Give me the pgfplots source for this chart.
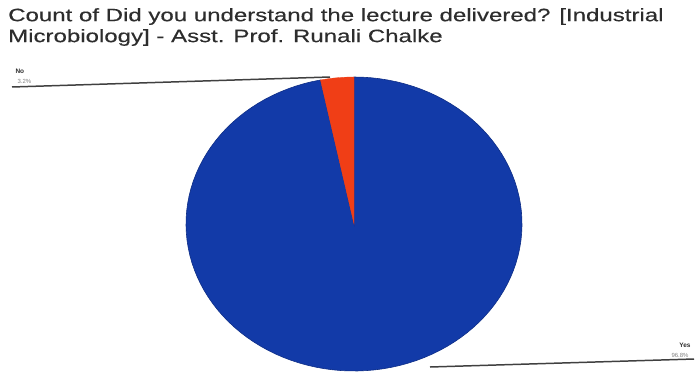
\documentclass[border=0pt]{standalone}
\usepackage{pgfplots}
\pgfplotsset{compat=1.18}
\usepackage{fontspec}
\setmainfont{Liberation Sans}
\newfontfamily\titlefont[FakeStretch=1.34,FakeBold=0.4]{Liberation Sans}
\definecolor{pieblue}{RGB}{18,58,168}
\definecolor{piered}{RGB}{240,62,22}
\definecolor{txt}{RGB}{45,45,45}
% values (percent)
\def\valNo{3.2}
\def\valYes{96.8}
\begin{document}
\begin{tikzpicture}
\begin{axis}[
  scale only axis, width=696bp, height=373bp,
  xmin=0, xmax=696, ymin=0, ymax=373, y dir=reverse,
  hide axis, clip=false,
]
\pgfmathsetmacro{\aNo}{90+3.6*\valNo}
% Yes slice
\addplot[fill=pieblue, draw=pieblue!80!black, line width=0.6pt, domain=\aNo:450, samples=120, variable=\t]
  ({354+168*cos(\t)}, {224-147*sin(\t)}) -- (axis cs:354,224) -- cycle;
% No slice
\addplot[fill=piered, draw=piered, line width=0.3pt, domain=90:\aNo, samples=20, variable=\t]
  ({354+168*cos(\t)}, {224-147*sin(\t)}) -- (axis cs:354,224) -- cycle;
% leader lines
\draw[gray!50!black, line width=1.5pt] (axis cs:12,87) -- (axis cs:330,77);
\draw[gray!50!black, line width=1.5pt] (axis cs:430,367) -- (axis cs:694,359);
% labels
\node[anchor=west, text=txt, font=\fontsize{6.5}{7}\selectfont\bfseries] at (axis cs:12,71) {No};
\node[anchor=west, text=gray, font=\fontsize{6}{7}\selectfont] at (axis cs:14,81) {3.2\%};
\node[anchor=east, text=txt, font=\fontsize{6.5}{7}\selectfont\bfseries] at (axis cs:694,345) {Yes};
\node[anchor=east, text=gray, font=\fontsize{6}{7}\selectfont] at (axis cs:692,355) {96.8\%};
% title
\node[anchor=north west, align=left, text=txt, font=\titlefont\fontsize{18}{21}\selectfont, inner sep=0pt] at (axis cs:8,8)
  {Count of Did you understand the lecture delivered? [Industrial\\Microbiology] - Asst. Prof. Runali Chalke};
\coordinate (BL) at (axis cs:0,373);
\coordinate (TR) at (axis cs:696,0);
\end{axis}
\pgfresetboundingbox
\path (BL) rectangle (TR);
\end{tikzpicture}
\end{document}
